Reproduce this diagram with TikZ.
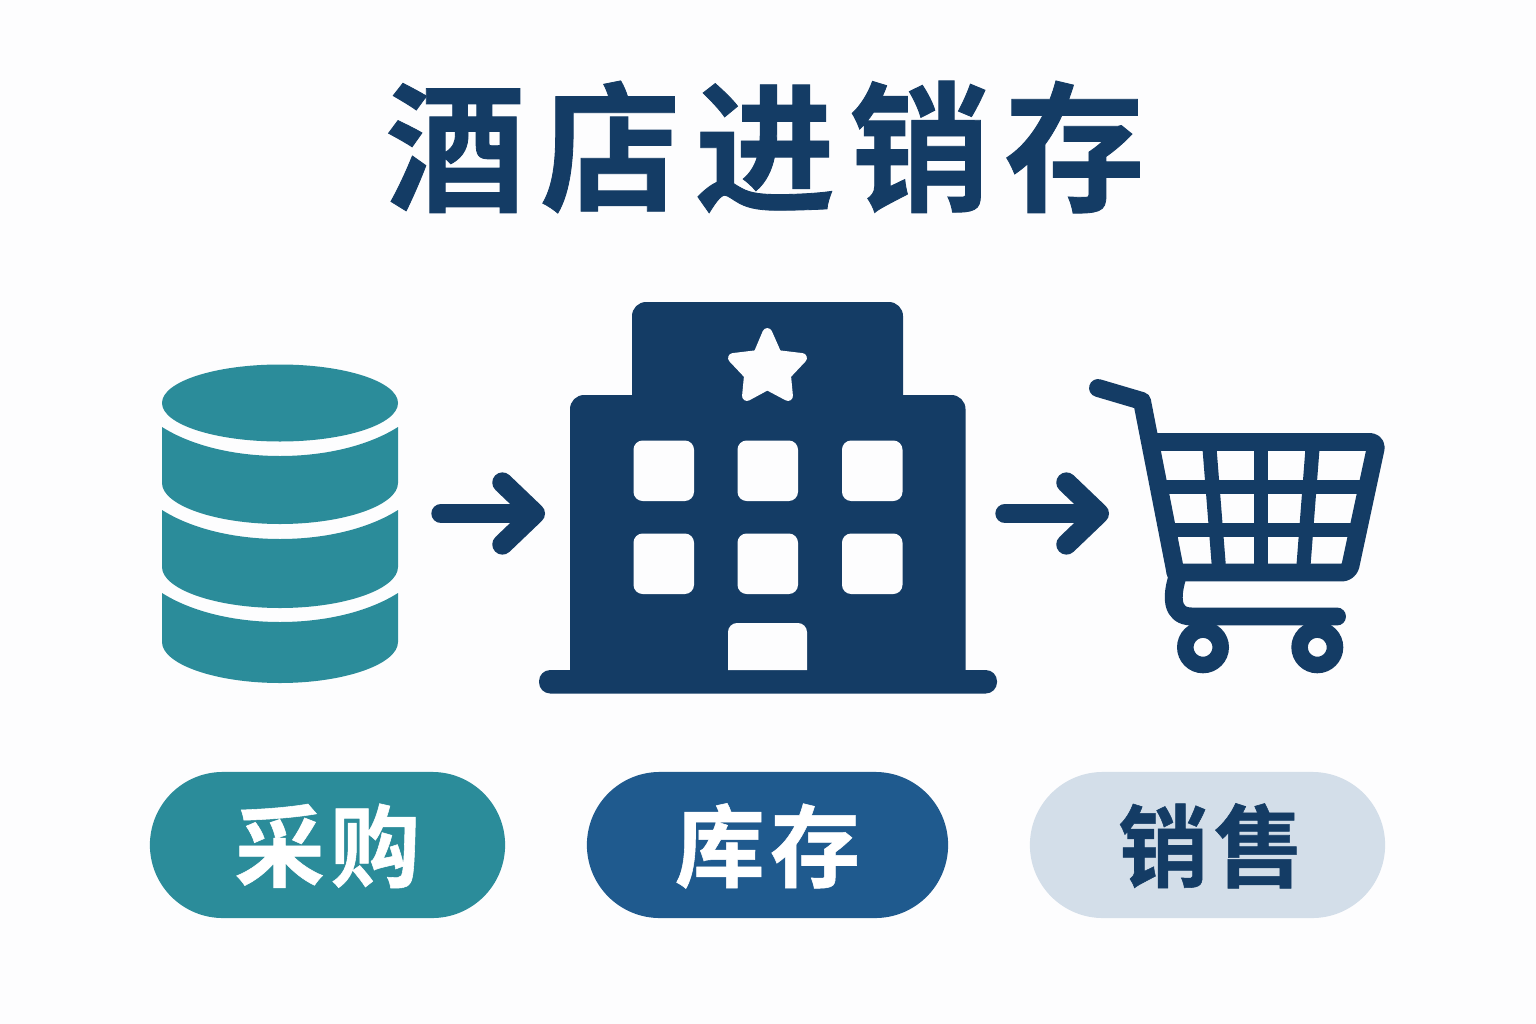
\documentclass[tikz,border=0pt]{standalone}
\usepackage{fontspec}
\newfontfamily\cjk{Noto Sans CJK SC}[BoldFont={Noto Sans CJK SC Bold},BoldFeatures={FakeBold=0.6}]
\usetikzlibrary{arrows.meta}
\definecolor{pagebg}{HTML}{FDFDFE}
\definecolor{navy}{HTML}{143C65}
\definecolor{teal}{HTML}{2B8C9A}
\definecolor{deepblue}{HTML}{1F5A8E}
\definecolor{paleblue}{HTML}{D3DEE9}
\tikzset{
  flowline/.style={draw=navy,line width=5.5pt,line cap=round,line join=round,
    -{Straight Barb[round,length=9.2pt,width=17.6pt,line width=5.8pt]}},
  cartline/.style={draw=navy,line width=5.1pt,line join=round,line cap=round},
  cartgrid/.style={draw=navy,line width=4pt},
  pill/.style={rounded corners=.73cm,minimum width=#1,minimum height=1.46cm,inner sep=0pt,
    text height=23pt,text depth=3pt,font=\cjk\bfseries\fontsize{25.6}{30}\selectfont\addfontfeature{LetterSpace=6}},
  windowbox/.style={fill=pagebg,rounded corners=2.6pt}
}
\begin{document}
\begin{tikzpicture}[x=0.01cm,y=-0.01cm]
\useasboundingbox (0,0) rectangle (1536,1024);
\fill[pagebg] (0,0) rectangle (1536,1024);
\node[text=navy,font=\cjk\bfseries\fontsize{40}{50}\selectfont\addfontfeature{LetterSpace=10}] (title) at (765,147) {酒店进销存};

% database
\fill[teal] (280,403) ellipse (118 and 38.5);
\foreach \t/\b in {427/483,510/567,593/642}
  \fill[teal] (162,\t) .. controls (192,\t+19) and (235,\t+29) .. (280,\t+29)
    .. controls (325,\t+29) and (368,\t+19) .. (398,\t) -- (398,\b)
    .. controls (398,\b+22) and (345,\b+41) .. (280,\b+41)
    .. controls (215,\b+41) and (162,\b+22) .. (162,\b) -- cycle;

% hotel
\fill[navy,rounded corners=4pt] (632,302) rectangle (903,420);
\fill[navy,rounded corners=4pt] (570,395) rectangle (965.5,690);
\fill[navy,rounded corners=3.2pt] (539,670) rectangle (997,693.5);
\foreach \x in {633.5,737.5,842}
  \foreach \y in {440.5,533.5}
    \fill[windowbox] (\x,\y) rectangle (\x+60.5,\y+60.5);
\fill[pagebg] (728,670) [rounded corners=2.6pt] -- (728,623) -- (807,623) [sharp corners] -- (807,670) -- cycle;
\filldraw[pagebg,line width=2.8pt,line join=round] (767.3,333) -- (777,355) -- (802,358) -- (786,375) -- (788,396)
  -- (767.3,385) -- (747,396) -- (749,375) -- (733,358) -- (758,355) -- cycle;

% cart
\draw[cartgrid] (1209,442) -- (1219.3,572);
\draw[cartgrid] (1261.3,442) -- (1261.3,572);
\draw[cartgrid] (1313,442) -- (1303,572);
\draw[cartgrid] (1160,487) -- (1366,487);
\draw[cartgrid] (1168,529.7) -- (1358,529.7);
\draw[cartline] (1098,388) -- (1142,401) -- (1175.5,572.5);
\draw[cartline,rounded corners=2pt] (1150.8,442) -- (1377,442) -- (1349,572.5) -- (1175.5,572.5);
\draw[cartline] (1177,578) .. controls (1172,595) and (1170,616.5) .. (1192,616.5) -- (1337,616.5);
\foreach \x in {1203,1317.3}
  \draw[navy,line width=4.7pt,fill=pagebg] (\x,647.3) circle (17.7);

% arrows
\coordinate (dbout) at (441,513.5);
\coordinate (hotelin) at (545,513.5);
\coordinate (hotelout) at (1005,513.5);
\coordinate (cartin) at (1109,513.5);
\draw[flowline] (dbout) -- (hotelin);
\draw[flowline] (hotelout) -- (cartin);

% labels
\node[pill=3.55cm,fill=teal,text=white] (purchase) at (327.5,845) {采购};
\node[pill=3.61cm,fill=deepblue,text=white] (stock) at (767.5,845) {库存};
\node[pill=3.55cm,fill=paleblue,text=navy] (sales) at (1207.5,845) {\kern2pt 销售};
\end{tikzpicture}
\end{document}
